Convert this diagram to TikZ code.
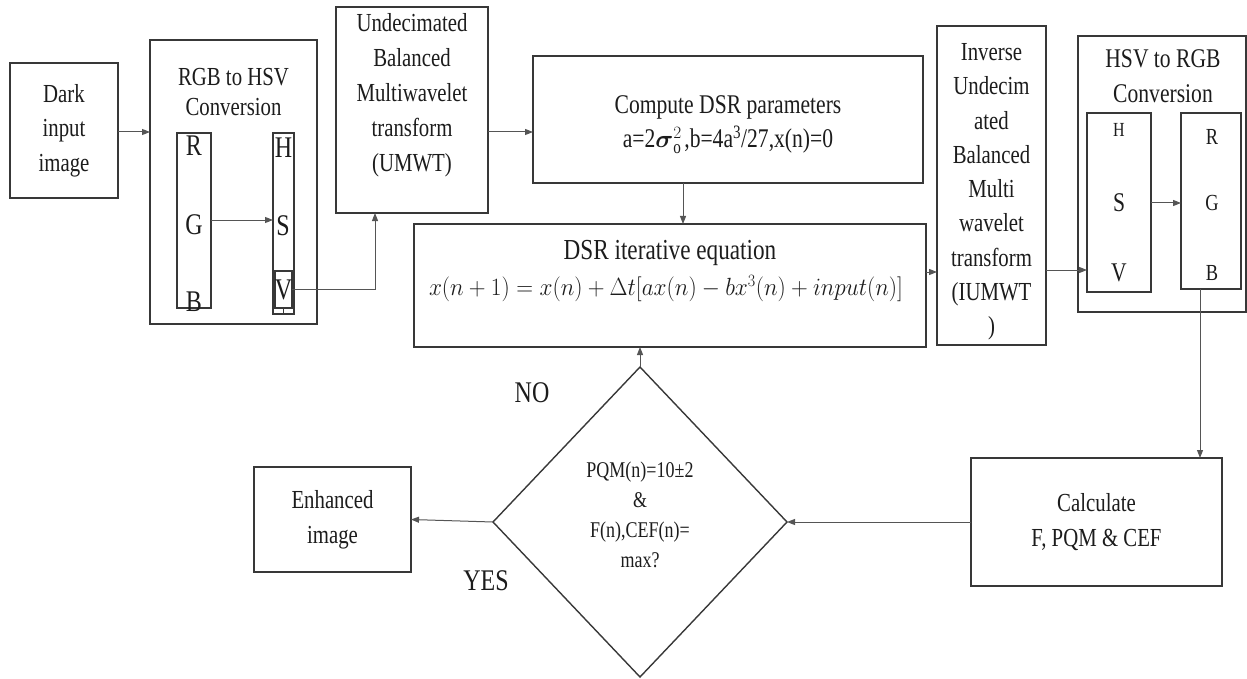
\documentclass[tikz,border=0pt]{standalone}
\usepackage{fontspec}
\setmainfont{Liberation Serif}[FakeStretch=0.8]
\usepackage{amsmath}
\usepackage{graphicx}
\usetikzlibrary{arrows.meta,shapes.geometric}
\definecolor{boxc}{HTML}{383838}
\definecolor{linec}{HTML}{555555}
\definecolor{txtc}{HTML}{1C1C1C}
\newcommand{\setfs}[2]{\fontsize{#1}{#2}\selectfont}
\tikzset{
 box/.style={draw=boxc, line width=1.4pt, inner sep=0pt, outer sep=0pt, rectangle, text=txtc, align=center},
 inbox/.style={draw=boxc, line width=1.2pt, inner sep=0pt, outer sep=0pt, rectangle},
 lbl/.style={inner sep=0pt, outer sep=0pt, text=txtc, align=center},
 arr/.style={draw=linec, line width=1pt, -{Triangle[length=8pt,width=6pt]}},
 ln/.style={draw=linec, line width=1pt},
 dia/.style={draw=boxc, line width=1.4pt, diamond, inner sep=0pt, outer sep=0pt},
}
\begin{document}
\begin{tikzpicture}[x=1pt,y=-1pt]
\useasboundingbox (0,0) rectangle (1247,679);
% ---------- boxes ----------
\node[box, minimum width=108pt, minimum height=135pt, font=\setfs{26}{34.5}] (dark) at (64,130.5) {Dark\\input\\image};
\node[box, minimum width=167pt, minimum height=284pt] (rgbhsv) at (233.5,182) {};
\node[lbl, font=\setfs{26}{30}] (rgbhsvt) at (233.5,92) {RGB to HSV\\Conversion};
\node[inbox, minimum width=34pt, minimum height=175pt] (rgbbar) at (194,220.5) {};
\node[inbox, minimum width=21pt, minimum height=181pt] (hsvbar) at (283.5,223.5) {};
\node[inbox, minimum width=17pt, minimum height=37pt] (vbox) at (283.5,289.5) {};
\draw[draw=boxc, line width=1.2pt] (vbox.south) -- (hsvbar.south);
\node[lbl, font=\setfs{30}{30}] (lR) at (194,146) {R};
\node[lbl, font=\setfs{30}{30}] (lG) at (194,225) {G};
\node[lbl, font=\setfs{30}{30}] (lB) at (194,302) {B};
\node[lbl, font=\setfs{30}{30}] (lH) at (283.5,148) {H};
\node[lbl, font=\setfs{30}{30}] (lS) at (283,226) {S};
\node[lbl, font=\setfs{30}{30}] (lV) at (283.5,290) {V};

\node[box, minimum width=152pt, minimum height=206pt] (umwt) at (412,110) {};
\node[lbl, font=\setfs{26}{35}] (umwtt) at (412,95) {Undecimated\\Balanced\\Multiwavelet\\transform\\(UMWT)};

\node[box, minimum width=390pt, minimum height=127pt] (compute) at (728,119.5) {};
\node[lbl, font=\setfs{27}{34}] (computet) at (728,124)
 {Compute DSR parameters\\a=2$\smash{\boldsymbol{\sigma}_{\mathrm{o}}^{2}}$\kern1pt,b=4a\textsuperscript{3}/27,x(n)=0};

\node[box, minimum width=512pt, minimum height=123pt] (iter) at (670,285.5) {};
\node[lbl, font=\setfs{29}{30}] (itert) at (670,253) {DSR iterative equation};
\node[lbl] (itereq) at (666,289) {\resizebox{474pt}{\height}{\setfs{24}{28}$x(n+1)=x(n)+\Delta t[ax(n)-bx^{3}(n)+input(n)]$}};

\node[box, minimum width=109pt, minimum height=319pt] (iumwt) at (991.5,185.5) {};
\node[lbl, font=\setfs{26}{34.25}] (iumwtt) at (991.5,192) {Inverse\\Undecim\\ated\\Balanced\\Multi\\wavelet\\transform\\(IUMWT\\)};

\node[box, minimum width=168pt, minimum height=276pt] (hsvrgb) at (1162,174) {};
\node[lbl, font=\setfs{27}{35}] (hsvrgbt) at (1163,76) {HSV to RGB\\Conversion};
\node[inbox, minimum width=64pt, minimum height=179pt] (hsvin) at (1119,202.5) {};
\node[inbox, minimum width=60pt, minimum height=176pt] (rgbin) at (1211,201) {};
\node[lbl, font=\setfs{20}{20}] (mH) at (1119,130) {H};
\node[lbl, font=\setfs{27}{27}] (mS) at (1119,203) {S};
\node[lbl, font=\setfs{27}{27}] (mV) at (1119,273) {V};
\node[lbl, font=\setfs{23}{23}] (mR) at (1212,137) {R};
\node[lbl, font=\setfs{23}{23}] (mG) at (1212,203) {G};
\node[lbl, font=\setfs{23}{23}] (mB) at (1212,273) {B};

\node[box, minimum width=251pt, minimum height=128pt, font=\setfs{26}{35}] (calc) at (1096.5,522) {Calculate\\F, PQM \& CEF};

\node[dia, minimum width=294pt, minimum height=310pt] (dec) at (640,522) {};
\node[lbl, font=\setfs{22.5}{30}] (dect) at (640,515) {PQM(n)=10±2\\\&\\F(n),CEF(n)=\\max?};

\node[box, minimum width=157pt, minimum height=105pt, font=\setfs{26}{35}] (enh) at (332.5,519.5) {Enhanced\\image};

\node[lbl, font=\setfs{30}{30}] (no) at (532,393) {NO};
\node[lbl, font=\setfs{30}{30}] (yes) at (486,581) {YES};

% ---------- helper coordinates ----------
\coordinate (y132) at (0,132);
\coordinate (xv) at (375,289.5);
\coordinate (x683) at (683,0);
\coordinate (y272) at (0,272);
\coordinate (y270) at (0,270);
\coordinate (y203) at (0,203);
\coordinate (x1200) at (1200,0);
\coordinate (g220) at (0,220);

% ---------- connectors ----------
\draw[arr] (dark.east |- y132) -- (rgbhsv.west |- y132);
\draw[arr] (rgbbar.east |- g220) -- (hsvbar.west |- g220);
\draw[arr] (vbox.east) -- (xv) -- (xv |- umwt.south);
\draw[arr] (umwt.east |- y132) -- (compute.west |- y132);
\draw[arr] (compute.south -| x683) -- (iter.north -| x683);
\draw[arr] (iter.east |- y272) -- (iumwt.west |- y272);
\draw[arr] (iumwt.east |- y270) -- (hsvin.west |- y270);
\draw[arr] (hsvin.east |- y203) -- (rgbin.west |- y203);
\draw[arr] (rgbin.south -| x1200) -- (calc.north -| x1200);
\draw[arr] (calc.west) -- (dec.east);
\draw[arr] (dec.west) -- (enh.east);
\draw[arr] (dec.north) -- (iter.south -| dec.north);
\end{tikzpicture}
\end{document}
